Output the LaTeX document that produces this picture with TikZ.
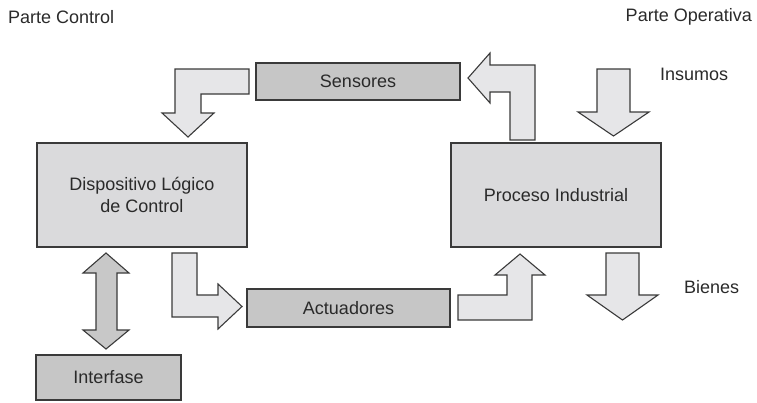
\documentclass[tikz,border=0pt]{standalone}
\usepackage{fontspec}
\setmainfont{Liberation Sans}
\definecolor{boxfill}{HTML}{DADADC}
\definecolor{smallfill}{HTML}{C6C6C6}
\definecolor{arrowfill}{HTML}{E6E6E8}
\definecolor{dblfill}{HTML}{C8C8C8}
\definecolor{edge}{HTML}{3A3A3A}
\definecolor{txt}{HTML}{2A2A2A}
\begin{document}
\begin{tikzpicture}[x=1pt,y=-1pt,
  every node/.style={font=\fontsize{18}{22}\selectfont, text=txt, inner sep=0pt},
  bigbox/.style={draw=edge, line width=1.2pt, fill=boxfill, align=center},
  smallbox/.style={draw=edge, line width=1.2pt, fill=smallfill},
  blockarrow/.style={draw=edge, line width=1.1pt, fill=arrowfill, line join=miter},
  dblarrow/.style={draw=edge, line width=1.1pt, fill=dblfill, line join=miter},
  lbl/.style={}]
\useasboundingbox (0,0) rectangle (757,402);
% boxes
\node[smallbox, minimum width=204pt, minimum height=37pt] (sens) at (358,81.5) {Sensores};
\node[bigbox, minimum width=210pt, minimum height=104pt] (disp) at (142,195) {Dispositivo Lógico\\de Control};
\node[bigbox, minimum width=210pt, minimum height=104pt] (proc) at (556,195) {Proceso Industrial};
\node[smallbox, minimum width=203pt, minimum height=38pt] (act) at (348.5,308) {Actuadores};
\node[smallbox, minimum width=145pt, minimum height=45pt] (intf) at (108.5,377.5) {Interfase};
% labels
\node[lbl, anchor=west] (pc) at (8,17) {Parte Control};
\node[lbl, anchor=east] (po) at (752,17) {Parte Operativa};
\node[lbl, anchor=west] (ins) at (660,74) {Insumos};
\node[lbl, anchor=west] (bie) at (684,287) {Bienes};
% block arrows
% Sensores -> Dispositivo
\draw[blockarrow] (249,69) -- (175,69) -- (175,113) -- (162,113) -- (188,137) -- (214,113) -- (201,113) -- (201,94) -- (249,94) -- cycle;
% Proceso -> Sensores
\draw[blockarrow] (510,140) -- (510,92) -- (490,92) -- (490,103) -- (468,78) -- (490,53) -- (490,65) -- (535,65) -- (535,140) -- cycle;
% Insumos
\draw[blockarrow] (597,69) -- (630,69) -- (630,112) -- (649,112) -- (613.5,136) -- (578,112) -- (597,112) -- cycle;
% Dispositivo -> Actuadores
\draw[blockarrow] (172,253) -- (197,253) -- (197,295) -- (218,295) -- (218,284) -- (242,306.5) -- (218,329) -- (218,317) -- (172,317) -- cycle;
% Actuadores -> Proceso
\draw[blockarrow] (458,295) -- (507,295) -- (507,275) -- (495,275) -- (520,254) -- (545,275) -- (532,275) -- (532,320) -- (458,320) -- cycle;
% Bienes
\draw[blockarrow] (606,253) -- (639,253) -- (639,295) -- (658,295) -- (622.5,320) -- (587,295) -- (606,295) -- cycle;
% double arrow Dispositivo <-> Interfase
\draw[dblarrow] (106,253) -- (129,273) -- (117,273) -- (117,330) -- (129,330) -- (106,349) -- (83,330) -- (96,330) -- (96,273) -- (83,273) -- cycle;
\end{tikzpicture}
\end{document}
